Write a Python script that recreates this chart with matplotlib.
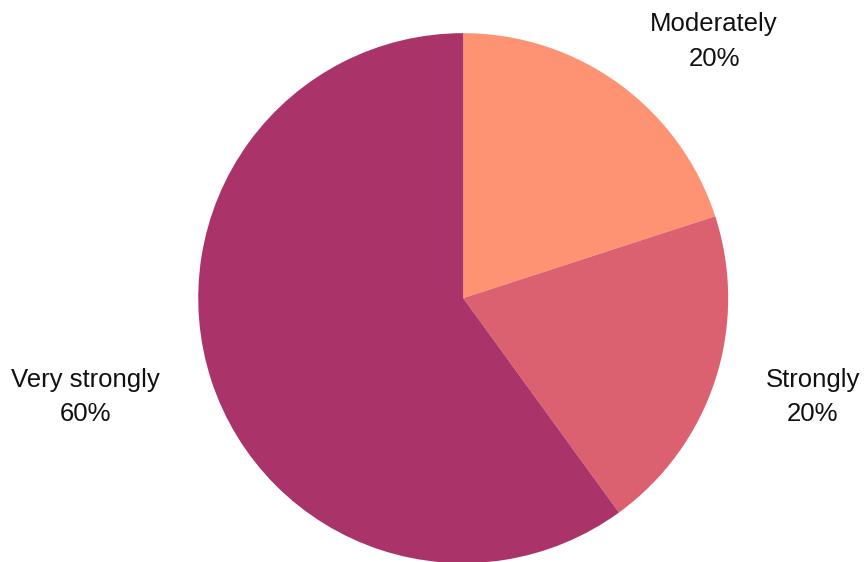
import matplotlib
matplotlib.use("Agg")
import matplotlib.pyplot as plt

categories = ["Moderately", "Strongly", "Very strongly"]
shares = [20, 20, 60]
colors = ["#FD9373", "#DC6170", "#AA336A"]

# label anchor points in axes data units (pie radius = 1)
label_pos = [(0.947, 0.968), (1.32, -0.374), (-1.426, -0.374)]

plt.rcParams["font.family"] = ["Liberation Sans", "DejaVu Sans"]

fig = plt.figure(figsize=(8.65, 5.62), dpi=100)
ax = fig.add_axes([0.229, -0.002, 0.613, 0.943])

wedges, _ = ax.pie(shares, colors=colors, startangle=90, counterclock=False,
                   radius=1, wedgeprops=dict(linewidth=0))

for name, val, (x, y) in zip(categories, shares, label_pos):
    ax.text(x, y, f"{name}\n{val}%", ha="center", va="center",
            multialignment="center", fontsize=18.5, linespacing=1.55,
            color="#111111", clip_on=False)

ax.set_xlim(-1, 1)
ax.set_ylim(-1, 1)
ax.set_aspect("equal")
ax.axis("off")

fig.savefig("out.png", dpi=100)
